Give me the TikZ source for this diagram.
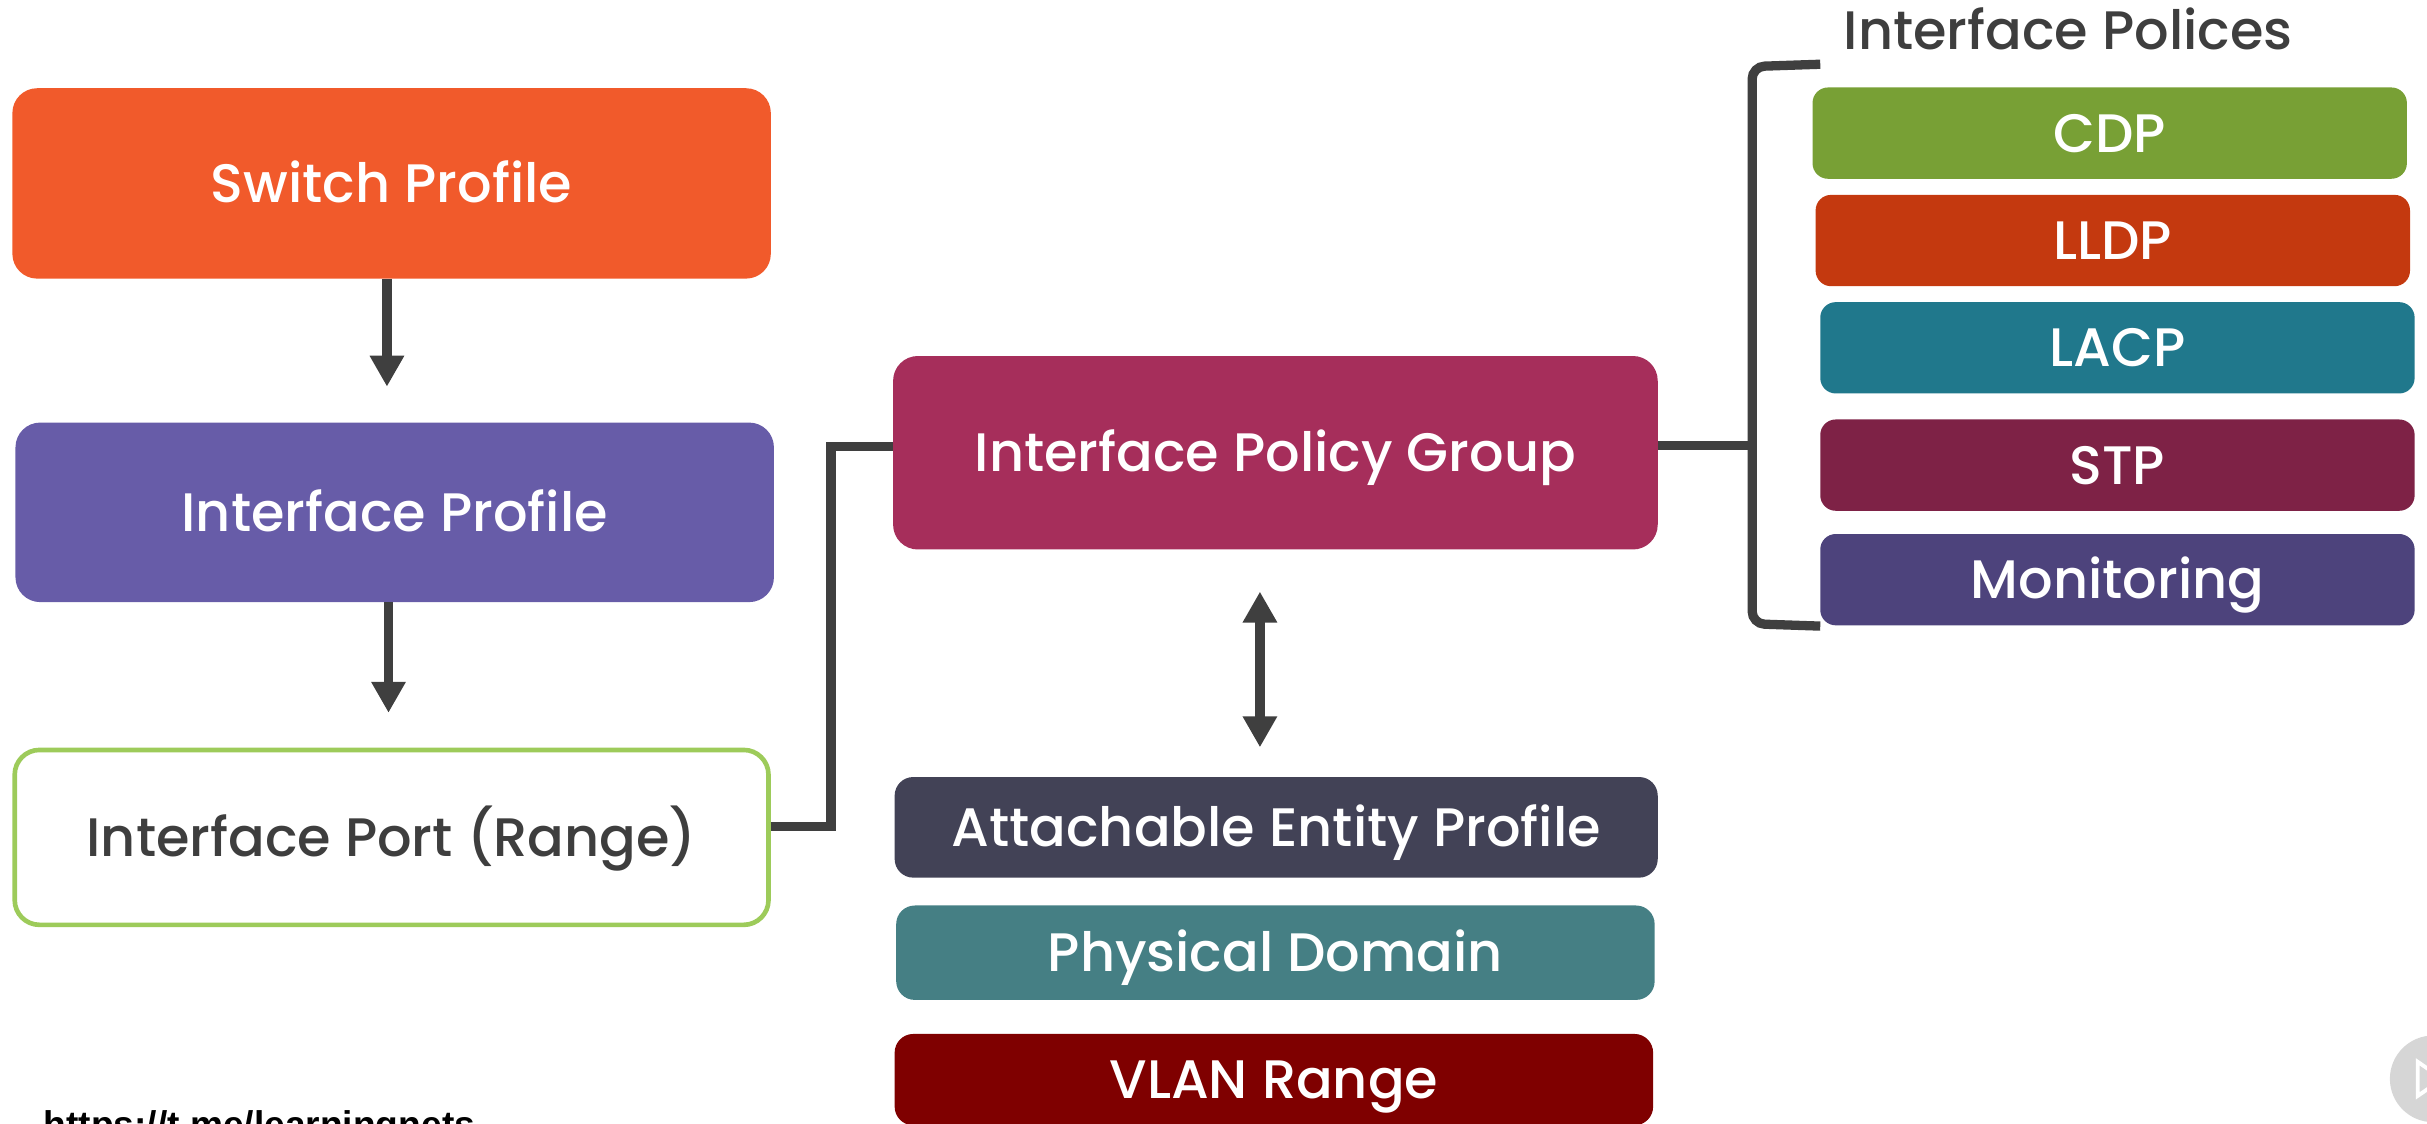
\documentclass[tikz,border=0pt]{standalone}
\usepackage{fontspec}
\setmainfont{Poppins}[UprightFont={* Medium}]
\newfontfamily\urlfont{Liberation Sans}
\usetikzlibrary{arrows.meta}
\definecolor{swc}{HTML}{F15A2B}
\definecolor{ipc}{HTML}{675CA8}
\definecolor{portc}{HTML}{9DCB5A}
\definecolor{ipgc}{HTML}{A62E5B}
\definecolor{aepc}{HTML}{424256}
\definecolor{pdc}{HTML}{457F84}
\definecolor{vlanc}{HTML}{7F0000}
\definecolor{cdpc}{HTML}{78A035}
\definecolor{lldpc}{HTML}{C4390F}
\definecolor{lacpc}{HTML}{20788C}
\definecolor{stpc}{HTML}{7E2246}
\definecolor{monc}{HTML}{4D437C}
\definecolor{lineg}{HTML}{3F3F3F}
\definecolor{textg}{HTML}{3E3E3E}
\definecolor{playg}{HTML}{D6D6D6}
\tikzset{
  lbl/.style={font=\fontsize{35}{42}\selectfont, text height=24.5pt, text depth=0pt, inner sep=0pt},
  box/.style={lbl, rectangle, rounded corners=16pt, text=white, align=center},
  bigbox/.style={box, minimum width=490pt},
  polbox/.style={box, rounded corners=10pt, minimum width=384pt, minimum height=59pt},
  conn/.style={draw=lineg, line width=6pt, line join=miter},
  arr/.style={conn, -{Triangle[width=21pt,length=20pt]}},
  darr/.style={conn, {Triangle[width=21pt,length=20pt]}-{Triangle[width=21pt,length=20pt]}}
}
\begin{document}
\begin{tikzpicture}[x=1pt,y=-1pt]
\useasboundingbox (0,0) rectangle (1568,726);
\clip (0,0) rectangle (1568,726);
% left column
\node[bigbox, fill=swc, minimum height=123pt] (sw) at (253,118.5) {Switch Profile};
\node[bigbox, fill=ipc, minimum height=116pt] (ip) at (255,331) {Interface Profile};
\node[box, draw=portc, line width=3pt, fill=white, text=textg, minimum width=487pt, minimum height=113pt] (port) at (253,541) {Interface Port (Range)};
% middle column
\node[box, fill=ipgc, minimum width=494pt, minimum height=125pt] (ipg) at (824,292.5) {Interface Policy Group};
\node[box, rounded corners=12pt, fill=aepc, minimum width=493pt, minimum height=65pt] (aep) at (824.5,534.5) {Attachable Entity Profile};
\node[box, rounded corners=12pt, fill=pdc, minimum width=490pt, minimum height=61pt] (pd) at (824,615.5) {Physical Domain};
\node[box, rounded corners=12pt, fill=vlanc, minimum width=490pt, minimum height=59pt] (vlan) at (823,697.5) {VLAN Range};
% right column
\node[lbl, anchor=west, text=textg] (title) at (1191,20) {Interface Polices};
\node[polbox, fill=cdpc] (cdp) at (1363,86) {CDP};
\node[polbox, fill=lldpc] (lldp) at (1365,155.4) {LLDP};
\node[polbox, fill=lacpc] (lacp) at (1368,224.7) {LACP};
\node[polbox, fill=stpc] (stp) at (1368,300.5) {STP};
\node[polbox, fill=monc] (mon) at (1368,374.5) {Monitoring};
% bracket
\coordinate (bt) at (1176,41.5);
\coordinate (bb) at (1176,404.5);
\coordinate (bj) at (1132,288);
\draw[conn, rounded corners=8pt] (bt) -- (1132,43) -- (1132,403) -- (bb);
\draw[conn] ([yshift=4.5pt]ipg.east) -- (bj);
% connectors
\draw[conn] ([yshift=7pt]port.east) -| ([xshift=-40pt,yshift=4pt]ipg.west) -- ([yshift=4pt]ipg.west);
\draw[arr, shorten >=23pt] ([xshift=-3pt]sw.south) -- ([xshift=-5pt]ip.north);
\draw[arr, shorten >=22.5pt] ([xshift=-4pt]ip.south) -- ([xshift=-2pt]port.north);
\draw[darr, shorten <=27pt, shorten >=19pt] ([xshift=-10pt]ipg.south) -- ([xshift=-10.5pt]aep.north);
% footer
\node[anchor=base west, inner sep=0pt, font=\urlfont\bfseries\fontsize{24}{28}\selectfont] (url) at (28,735) {https://t.me/learningnets};
\fill[playg] (1572,697) circle (28pt);
\draw[white, line width=2.5pt, line join=miter] (1562,686) -- (1562,708) -- (1578,697) -- cycle;
\end{tikzpicture}
\end{document}
